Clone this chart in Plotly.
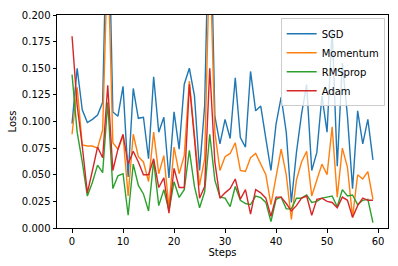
import plotly.graph_objects as go

steps = list(range(60))

sgd = [0.098, 0.150, 0.111, 0.099, 0.102, 0.106, 0.118, 0.33, 0.109, 0.105,
       0.133, 0.048, 0.131, 0.103, 0.104, 0.065, 0.142, 0.090, 0.104, 0.047,
       0.109, 0.074, 0.135, 0.150, 0.124, 0.054, 0.1145, 0.33, 0.105, 0.079,
       0.102, 0.084, 0.141, 0.085, 0.076, 0.147, 0.110, 0.1145, 0.084, 0.054,
       0.0975, 0.123, 0.090, 0.024, 0.071, 0.107, 0.1346, 0.054, 0.071, 0.124,
       0.090, 0.187, 0.058, 0.155, 0.105, 0.037, 0.110, 0.079, 0.102, 0.064]

momentum = [0.088, 0.132, 0.078, 0.077, 0.077, 0.075, 0.092, 0.26, 0.080, 0.074,
            0.087, 0.030, 0.088, 0.067, 0.062, 0.0435, 0.090, 0.051, 0.068, 0.019,
            0.076, 0.051, 0.068, 0.138, 0.087, 0.040, 0.065, 0.26, 0.09, 0.054,
            0.067, 0.070, 0.080, 0.054, 0.053, 0.066, 0.070, 0.060, 0.050, 0.022,
            0.050, 0.074, 0.050, 0.008, 0.045, 0.062, 0.072, 0.030, 0.045, 0.060,
            0.050, 0.095, 0.029, 0.075, 0.057, 0.010, 0.050, 0.046, 0.053, 0.027]

rmsprop = [0.144, 0.090, 0.062, 0.030, 0.043, 0.059, 0.052, 0.118, 0.037, 0.049,
           0.051, 0.012, 0.060, 0.040, 0.032, 0.016, 0.063, 0.021, 0.036, 0.016,
           0.0435, 0.0287, 0.036, 0.073, 0.039, 0.019, 0.034, 0.088, 0.045, 0.029,
           0.028, 0.020, 0.039, 0.026, 0.023, 0.022, 0.030, 0.0285, 0.024, 0.006,
           0.027, 0.029, 0.018, 0.018, 0.028, 0.028, 0.031, 0.024, 0.025, 0.028,
           0.029, 0.030, 0.020, 0.036, 0.030, 0.031, 0.022, 0.026, 0.027, 0.005]

adam = [0.180, 0.115, 0.077, 0.033, 0.054, 0.076, 0.066, 0.134, 0.054, 0.074,
        0.088, 0.060, 0.072, 0.062, 0.050, 0.050, 0.065, 0.038, 0.047, 0.014,
        0.056, 0.038, 0.038, 0.135, 0.084, 0.028, 0.039, 0.150, 0.062, 0.028,
        0.033, 0.037, 0.046, 0.027, 0.036, 0.013, 0.036, 0.033, 0.028, 0.011,
        0.029, 0.029, 0.023, 0.016, 0.021, 0.028, 0.030, 0.012, 0.027, 0.028,
        0.025, 0.024, 0.019, 0.029, 0.026, 0.010, 0.021, 0.028, 0.026, 0.026]

series = [("SGD", sgd, "#1f77b4"), ("Momentum", momentum, "#ff7f0e"),
          ("RMSprop", rmsprop, "#2ca02c"), ("Adam", adam, "#d62728")]

y_ticks = [0.0, 0.025, 0.05, 0.075, 0.1, 0.125, 0.15, 0.175, 0.2]
x_ticks = [0, 10, 20, 30, 40, 50, 60]

fig = go.Figure()
for name, vals, color in series:
    fig.add_trace(go.Scatter(x=steps, y=vals, mode="lines", name=name,
                             line=dict(color=color, width=1.4)))

font = dict(family="DejaVu Sans", size=10, color="black")
fig.update_layout(
    width=398, height=266,
    margin=dict(l=57, r=9, t=12, b=37),
    paper_bgcolor="white", plot_bgcolor="white",
    font=font,
    showlegend=True,
    legend=dict(x=0.99, y=0.985, xanchor="right", yanchor="top",
                bgcolor="rgba(255,255,255,0.8)", bordercolor="#cccccc",
                borderwidth=1, font=font,
                tracegroupgap=0, itemwidth=30),
)
fig.update_xaxes(range=[-2.95, 61.95], tickvals=x_ticks,
                 ticktext=[str(t) for t in x_ticks],
                 showline=True, linecolor="black", linewidth=1, mirror=True,
                 ticks="outside", ticklen=3.5, tickcolor="black", tickwidth=1,
                 showgrid=False, zeroline=False,
                 title=dict(text="Steps", font=font, standoff=3))
fig.update_yaxes(range=[0, 0.2], tickvals=y_ticks,
                 ticktext=[f"{t:.3f}" for t in y_ticks],
                 showline=True, linecolor="black", linewidth=1, mirror=True,
                 ticks="outside", ticklen=3.5, tickcolor="black", tickwidth=1,
                 showgrid=False, zeroline=False,
                 title=dict(text="Loss", font=font, standoff=3))

fig.write_html("out.html")
